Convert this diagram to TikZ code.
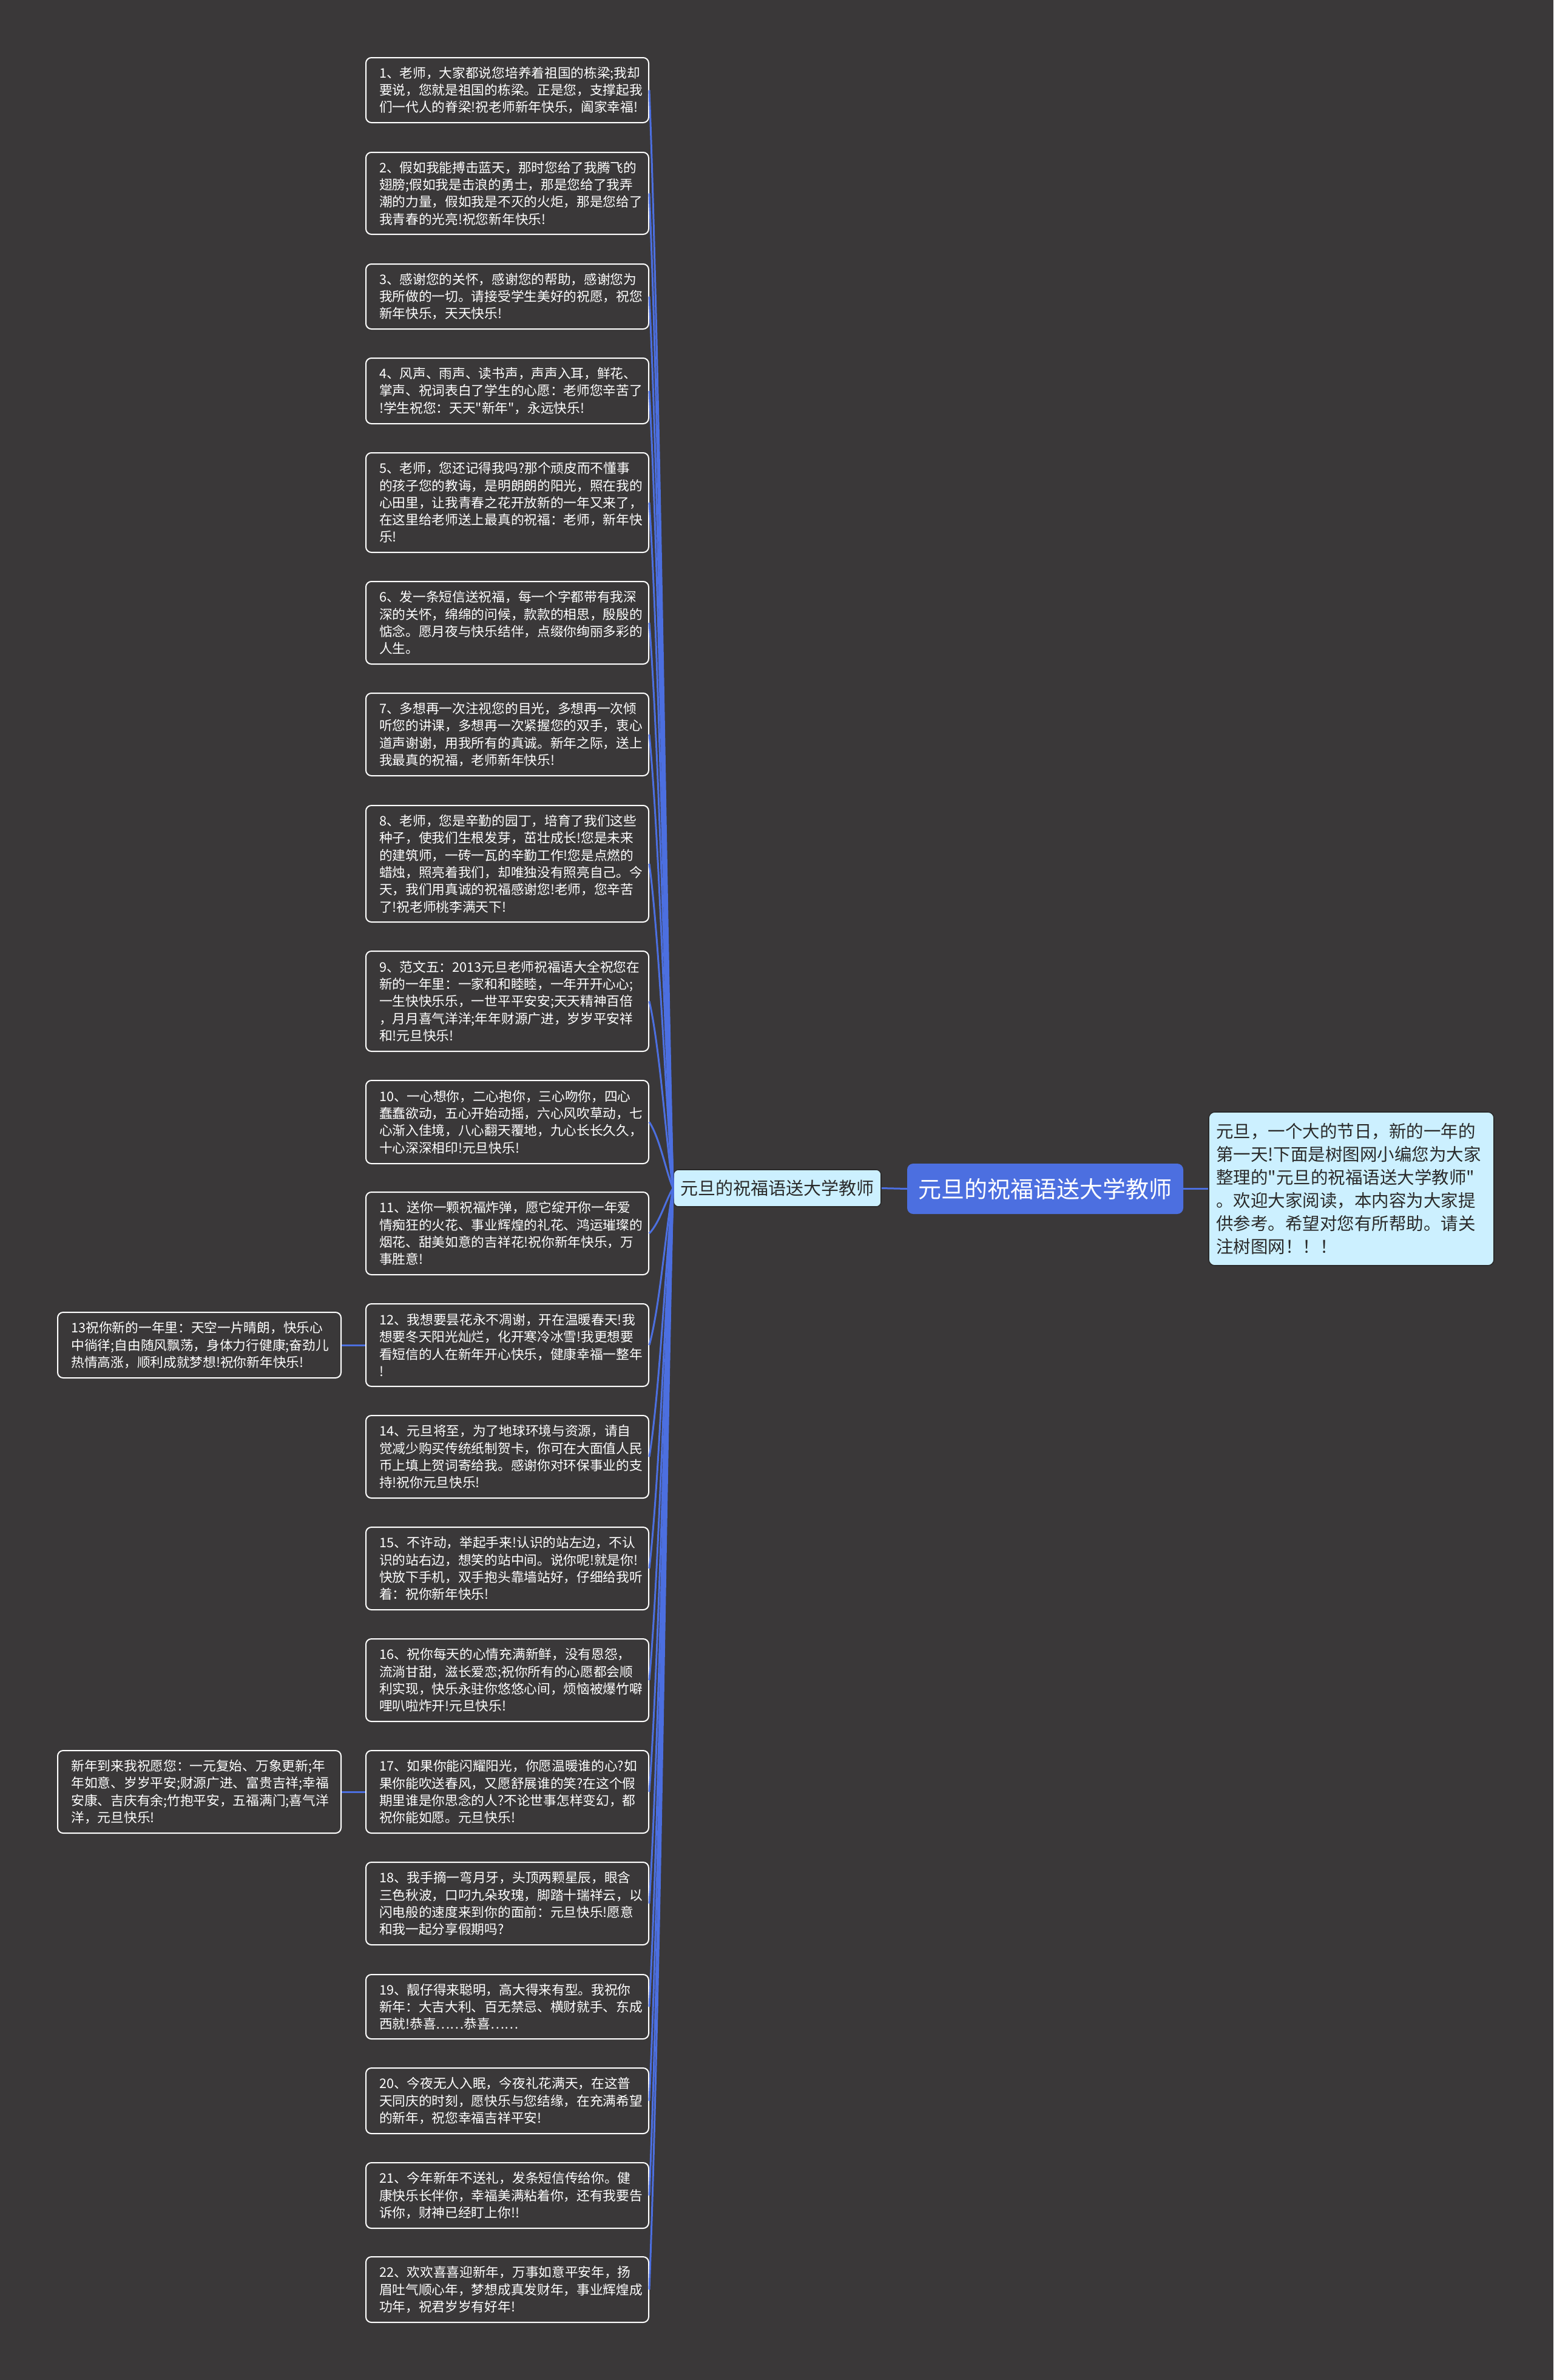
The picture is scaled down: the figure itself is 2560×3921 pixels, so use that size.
\documentclass[tikz,border=0pt]{standalone}
\usepackage{fontspec}
\newfontfamily\cjk{Noto Sans CJK SC}
\usetikzlibrary{calc}
\definecolor{bgc}{HTML}{3A3839}
\definecolor{lineblue}{HTML}{4C6FE0}
\definecolor{mainblue}{HTML}{4C6FE0}
\definecolor{paleblue}{HTML}{CCF0FF}
\definecolor{darktext}{HTML}{2A2A2A}
\tikzset{
  card/.style={draw=white, line width=2pt, rounded corners=9pt, fill=bgc, text=white,
    align=left, text width=422pt, inner xsep=22pt, inner ysep=6pt, minimum width=466pt,
    font=\cjk\fontsize{21.7}{28.3}\selectfont},
  conn/.style={draw=lineblue, line width=3pt},
  subnode/.style={draw=darktext, line width=1.6pt, rounded corners=8pt, fill=paleblue, text=darktext,
    minimum width=342pt, minimum height=61pt, inner sep=0pt, font=\cjk\fontsize{29}{34}\selectfont},
  mainnode/.style={fill=mainblue, rounded corners=10pt, text=white, minimum width=455pt,
    minimum height=83pt, inner sep=0pt, font=\cjk\fontsize{38}{44}\selectfont},
  descnode/.style={draw=darktext, line width=1.6pt, rounded corners=10pt, fill=paleblue, text=darktext,
    align=left, text width=446pt, inner xsep=12pt, inner ysep=6pt, minimum height=253pt,
    font=\cjk\fontsize{28.5}{38}\selectfont},
}
\begin{document}
\begin{tikzpicture}[x=1pt,y=-1pt]
\fill[bgc] (0,0) rectangle (2560,3921);

\node[card, minimum height=107pt] (b1) at (836,148.5) {1、老师，大家都说您培养着祖国的栋梁;我却\\要说，您就是祖国的栋梁。正是您，支撑起我\\们一代人的脊梁!祝老师新年快乐，阖家幸福!};
\node[card, minimum height=135pt] (b2) at (836,318.5) {2、假如我能搏击蓝天，那时您给了我腾飞的\\翅膀;假如我是击浪的勇士，那是您给了我弄\\潮的力量，假如我是不灭的火炬，那是您给了\\我青春的光亮!祝您新年快乐!};
\node[card, minimum height=107pt] (b3) at (836,488.5) {3、感谢您的关怀，感谢您的帮助，感谢您为\\我所做的一切。请接受学生美好的祝愿，祝您\\新年快乐，天天快乐!};
\node[card, minimum height=108pt] (b4) at (836,644) {4、风声、雨声、读书声，声声入耳，鲜花、\\掌声、祝词表白了学生的心愿：老师您辛苦了\\!学生祝您：天天"新年"，永远快乐!};
\node[card, minimum height=164pt] (b5) at (836,828) {5、老师，您还记得我吗?那个顽皮而不懂事\\的孩子您的教诲，是明朗朗的阳光，照在我的\\心田里，让我青春之花开放新的一年又来了，\\在这里给老师送上最真的祝福：老师，新年快\\乐!};
\node[card, minimum height=136pt] (b6) at (836,1026) {6、发一条短信送祝福，每一个字都带有我深\\深的关怀，绵绵的问候，款款的相思，殷殷的\\惦念。愿月夜与快乐结伴，点缀你绚丽多彩的\\人生。};
\node[card, minimum height=136pt] (b7) at (836,1210) {7、多想再一次注视您的目光，多想再一次倾\\听您的讲课，多想再一次紧握您的双手，衷心\\道声谢谢，用我所有的真诚。新年之际，送上\\我最真的祝福，老师新年快乐!};
\node[card, minimum height=192pt] (b8) at (836,1423) {8、老师，您是辛勤的园丁，培育了我们这些\\种子，使我们生根发芽，茁壮成长!您是未来\\的建筑师，一砖一瓦的辛勤工作!您是点燃的\\蜡烛，照亮着我们，却唯独没有照亮自己。今\\天，我们用真诚的祝福感谢您!老师，您辛苦\\了!祝老师桃李满天下!};
\node[card, minimum height=165pt] (b9) at (836,1649.5) {9、范文五：2013元旦老师祝福语大全祝您在\\新的一年里：一家和和睦睦，一年开开心心;\\一生快快乐乐，一世平平安安;天天精神百倍\\，月月喜气洋洋;年年财源广进，岁岁平安祥\\和!元旦快乐!};
\node[card, minimum height=137pt] (b10) at (836,1848.5) {10、一心想你，二心抱你，三心吻你，四心\\蠢蠢欲动，五心开始动摇，六心风吹草动，七\\心渐入佳境，八心翻天覆地，九心长长久久，\\十心深深相印!元旦快乐!};
\node[card, minimum height=136pt] (b11) at (836,2032) {11、送你一颗祝福炸弹，愿它绽开你一年爱\\情痴狂的火花、事业辉煌的礼花、鸿运璀璨的\\烟花、甜美如意的吉祥花!祝你新年快乐，万\\事胜意!};
\node[card, minimum height=136pt] (b12) at (836,2216) {12、我想要昙花永不凋谢，开在温暖春天!我\\想要冬天阳光灿烂，化开寒冷冰雪!我更想要\\看短信的人在新年开心快乐，健康幸福一整年\\!};
\node[card, minimum height=136pt] (b14) at (836,2400) {14、元旦将至，为了地球环境与资源，请自\\觉减少购买传统纸制贺卡，你可在大面值人民\\币上填上贺词寄给我。感谢你对环保事业的支\\持!祝你元旦快乐!};
\node[card, minimum height=136pt] (b15) at (836,2584) {15、不许动，举起手来!认识的站左边，不认\\识的站右边，想笑的站中间。说你呢!就是你!\\快放下手机，双手抱头靠墙站好，仔细给我听\\着：祝你新年快乐!};
\node[card, minimum height=136pt] (b16) at (836,2768) {16、祝你每天的心情充满新鲜，没有恩怨，\\流淌甘甜，滋长爱恋;祝你所有的心愿都会顺\\利实现，快乐永驻你悠悠心间，烦恼被爆竹噼\\哩叭啦炸开!元旦快乐!};
\node[card, minimum height=136pt] (b17) at (836,2952) {17、如果你能闪耀阳光，你愿温暖谁的心?如\\果你能吹送春风，又愿舒展谁的笑?在这个假\\期里谁是你思念的人?不论世事怎样变幻，都\\祝你能如愿。元旦快乐!};
\node[card, minimum height=136pt] (b18) at (836,3136) {18、我手摘一弯月牙，头顶两颗星辰，眼含\\三色秋波，口叼九朵玫瑰，脚踏十瑞祥云，以\\闪电般的速度来到你的面前：元旦快乐!愿意\\和我一起分享假期吗?};
\node[card, minimum height=106pt] (b19) at (836,3306) {19、靓仔得来聪明，高大得来有型。我祝你\\新年：大吉大利、百无禁忌、横财就手、东成\\西就!恭喜……恭喜……};
\node[card, minimum height=108pt] (b20) at (836,3461) {20、今夜无人入眠，今夜礼花满天，在这普\\天同庆的时刻，愿快乐与您结缘，在充满希望\\的新年，祝您幸福吉祥平安!};
\node[card, minimum height=108pt] (b21) at (836,3617) {21、今年新年不送礼，发条短信传给你。健\\康快乐长伴你，幸福美满粘着你，还有我要告\\诉你，财神已经盯上你!!};
\node[card, minimum height=108pt] (b22) at (836,3772) {22、欢欢喜喜迎新年，万事如意平安年，扬\\眉吐气顺心年，梦想成真发财年，事业辉煌成\\功年，祝君岁岁有好年!};

\node[card, minimum height=108pt, minimum width=467pt] (b13) at (328.5,2216) {13祝你新的一年里：天空一片晴朗，快乐心\\中徜徉;自由随风飘荡，身体力行健康;奋劲儿\\热情高涨，顺利成就梦想!祝你新年快乐!};
\node[card, minimum height=136pt, minimum width=467pt] (bl17) at (328.5,2952) {新年到来我祝愿您：一元复始、万象更新;年\\年如意、岁岁平安;财源广进、富贵吉祥;幸福\\安康、吉庆有余;竹抱平安，五福满门;喜气洋\\洋，元旦快乐!};

\node[subnode] (sub) at (1281,1957.5) {元旦的祝福语送大学教师};
\node[mainnode] (main) at (1722.5,1958.5) {元旦的祝福语送大学教师};
\node[descnode] (desc) at (2227,1958.5) {元旦，一个大的节日，新的一年的\\第一天!下面是树图网小编您为大家\\整理的"元旦的祝福语送大学教师"\\。欢迎大家阅读，本内容为大家提\\供参考。希望对您有所帮助。请关\\注树图网！！！};

\draw[conn] (sub.east) -- (main.west);
\draw[conn] (main.east) -- (desc.west);
\draw[conn] (b13.east) -- (b12.west);
\draw[conn] (bl17.east) -- (b17.west);
\foreach \b in {b1,b2,b3,b4,b5,b6,b7,b8,b9,b10,b11,b12,b14,b15,b16,b17,b18,b19,b20,b21,b22}{
  \draw[conn] (\b.east) .. controls ($(\b.east)!0.25!(sub.west)+(8,0)$) and ($(sub.west)!0.25!(\b.east)+(-2,0)$) .. (sub.west);
}
\end{tikzpicture}
\end{document}
